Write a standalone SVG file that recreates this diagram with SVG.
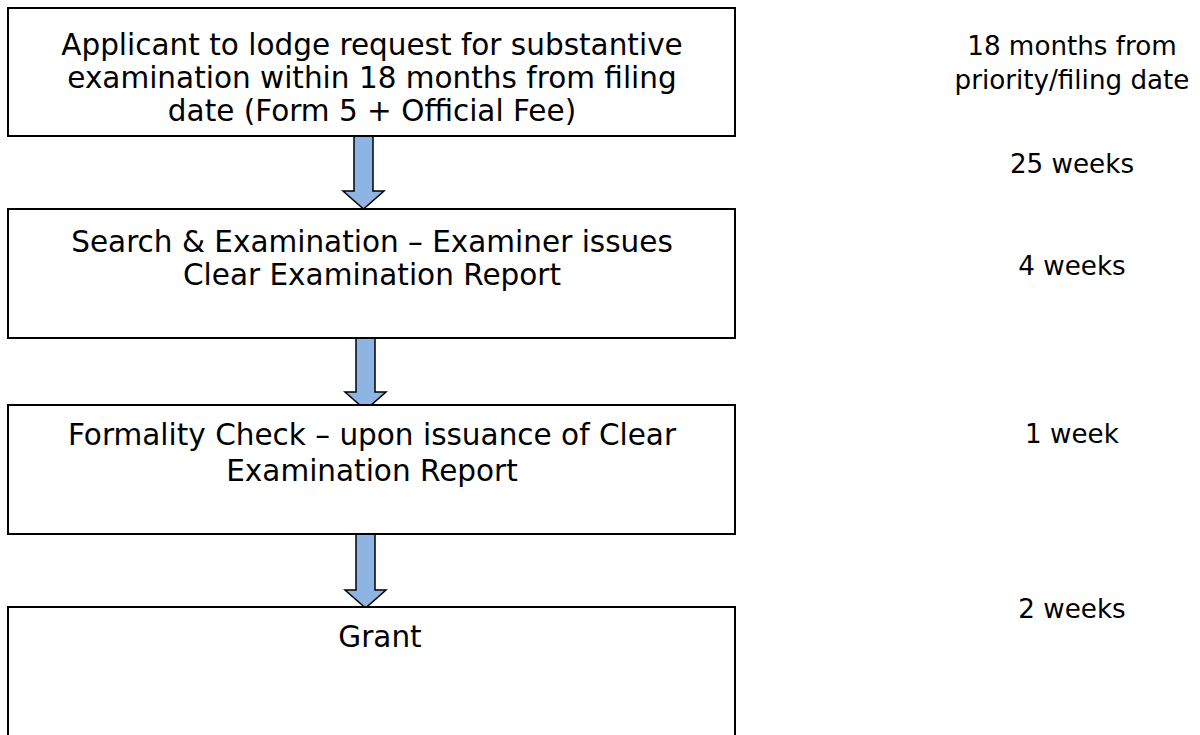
<svg xmlns="http://www.w3.org/2000/svg" width="1200" height="735" viewBox="0 0 1200 735">
  <style>
    .box { fill: #ffffff; stroke: #000000; stroke-width: 2; }
    .arrow { fill: #8EB4E3; stroke: #000000; stroke-width: 1.5; stroke-linejoin: miter; }
    .label { font-family: "DejaVu Sans", Verdana, sans-serif; font-size: 29.5px; fill: #000000; text-anchor: middle; }
    .time { font-family: "DejaVu Sans", Verdana, sans-serif; font-size: 26.2px; fill: #000000; text-anchor: middle; }
  </style>
  <rect width="1200" height="735" fill="#ffffff"/>

  <!-- block arrows between the steps -->
  <g id="connectors">
    <path class="arrow" d="M354,136 L373,136 L373,191 L384,191 L363.5,209 L343,191 L354,191 Z"/>
    <path class="arrow" d="M356,338 L375,338 L375,392 L386,392 L365.5,410 L345,392 L356,392 Z"/>
    <path class="arrow" d="M356,534 L375,534 L375,590 L386,590 L365.5,608 L345,590 L356,590 Z"/>
  </g>

  <g id="step-request">
    <rect class="box" x="8" y="8" width="727" height="128"/>
    <text class="label" x="372" y="55">Applicant to lodge request for substantive</text>
    <text class="label" x="372" y="88">examination within 18 months from filing</text>
    <text class="label" x="372" y="121">date (Form 5 + Official Fee)</text>
  </g>

  <g id="step-search">
    <rect class="box" x="8" y="209" width="727" height="129"/>
    <text class="label" x="372" y="252">Search &amp; Examination – Examiner issues</text>
    <text class="label" x="372" y="285">Clear Examination Report</text>
  </g>

  <g id="step-formality">
    <rect class="box" x="8" y="405" width="727" height="129"/>
    <text class="label" x="372" y="445">Formality Check – upon issuance of Clear</text>
    <text class="label" x="372" y="481">Examination Report</text>
  </g>

  <g id="step-grant">
    <rect class="box" x="8" y="607" width="727" height="160"/>
    <text class="label" x="380" y="647">Grant</text>
  </g>

  <!-- timing column -->
  <g id="timings">
    <text class="time" x="1072" y="55">18 months from</text>
    <text class="time" x="1072" y="89">priority/filing date</text>
    <text class="time" x="1072" y="173">25 weeks</text>
    <text class="time" x="1072" y="275">4 weeks</text>
    <text class="time" x="1072" y="443">1 week</text>
    <text class="time" x="1072" y="618">2 weeks</text>
  </g>
</svg>
